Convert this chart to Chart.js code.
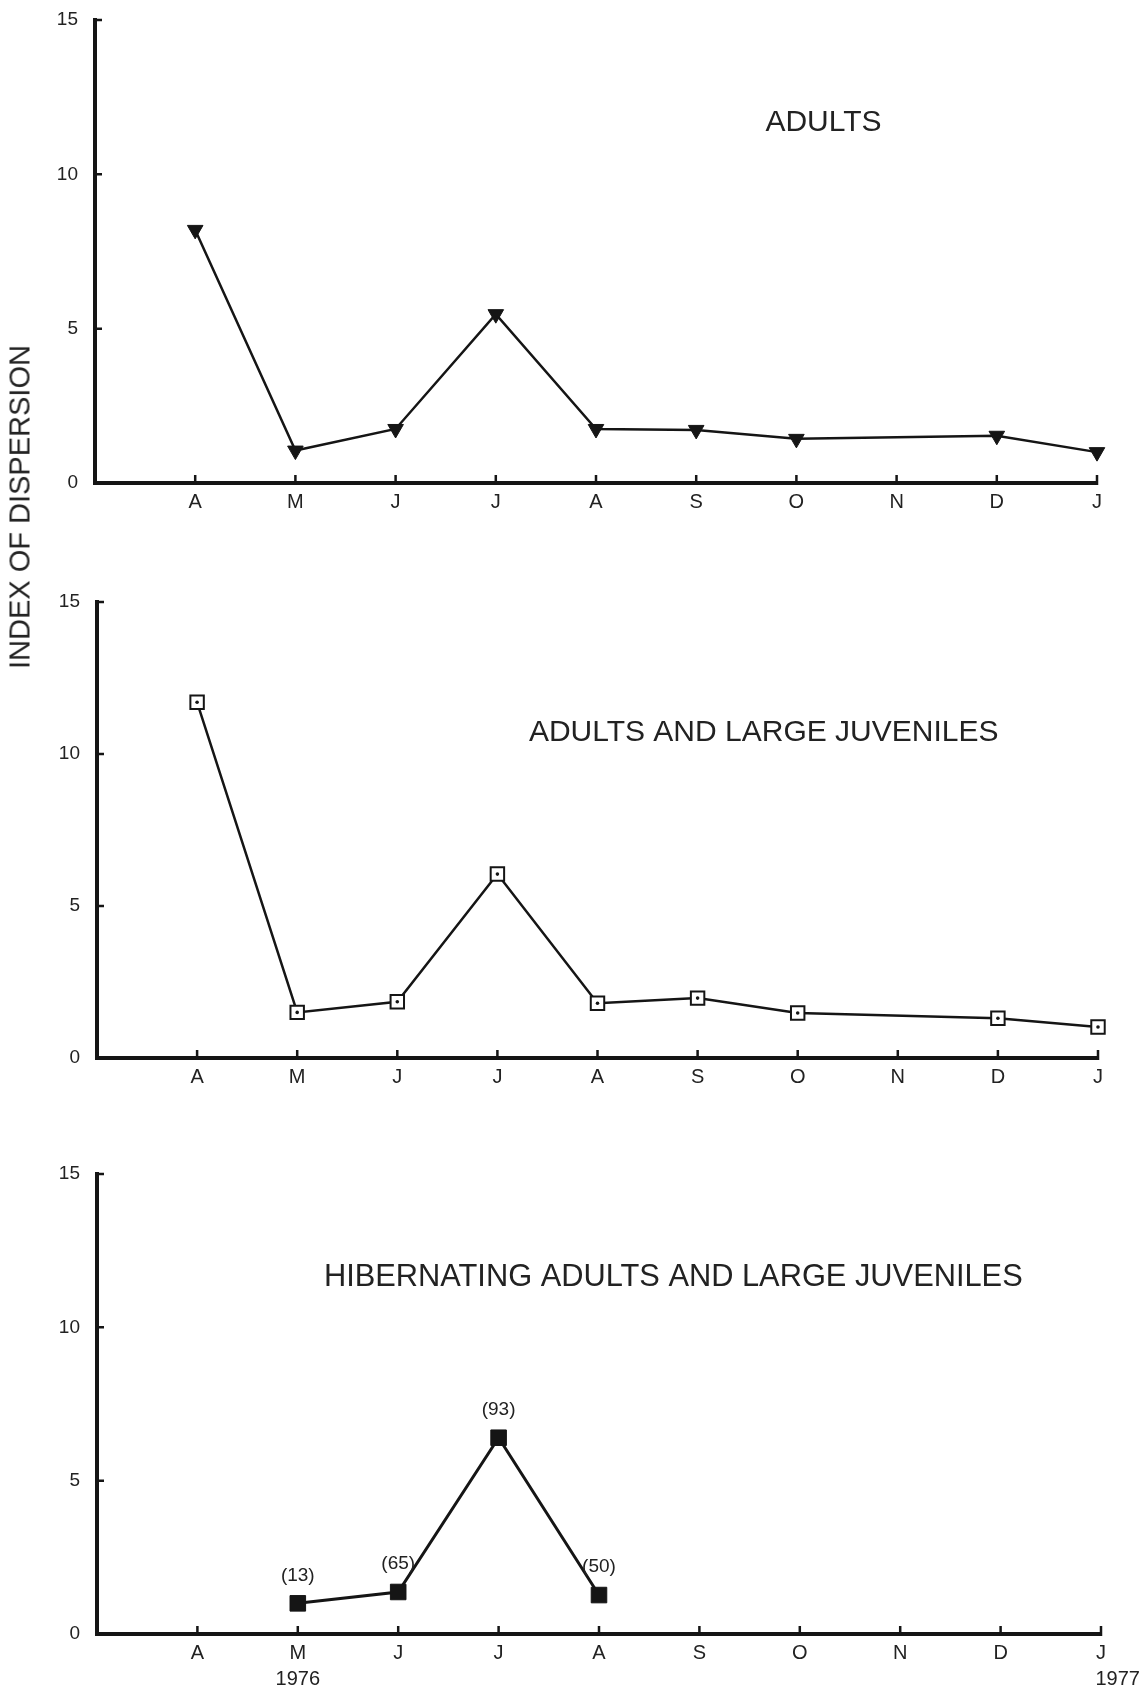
<!DOCTYPE html>
<html>
<head>
<meta charset="utf-8">
<script src="https://cdn.jsdelivr.net/npm/chart.js@4.4.0/dist/chart.umd.min.js"></script>
<style>
    html, body { margin: 0; padding: 0; background: #fff; }
    #page { position: relative; width: 1146px; height: 1692px; overflow: hidden; font-family: "Liberation Sans", Arial, sans-serif; }
    canvas { position: absolute; left: 0; }
    #ylabel {
        position: absolute; left: 20px; top: 507px;
        transform: translate(-50%, -50%) rotate(-90deg);
        font-size: 29px; color: #222; white-space: nowrap;
    }
</style>
</head>
<body>
<div id="page">
    <canvas id="c1" width="1146" height="550" style="top:-10px"></canvas>
    <canvas id="c2" width="1146" height="550" style="top:560px"></canvas>
    <canvas id="c3" width="1146" height="572" style="top:1120px"></canvas>
    <div id="ylabel">INDEX OF DISPERSION</div>
</div>
<script>
// Data (index of dispersion per month, null = no sample)
const MONTHS = ['A', 'M', 'J', 'J', 'A', 'S', 'O', 'N', 'D', 'J'];
const Y_TICKS = [0, 5, 10, 15];
const ADULTS = [8.2, 1.05, 1.75, 5.47, 1.75, 1.72, 1.43, null, 1.53, 1.0];
const ADULTS_LARGE_JUV = [11.7, 1.5, 1.85, 6.05, 1.8, 1.97, 1.48, null, 1.31, 1.02];
const HIBERNATING = [null, 1.0, 1.37, 6.4, 1.27, null, null, null, null, null];
const HIBERNATING_N = ['', '(13)', '(65)', '(93)', '(50)', '', '', '', '', ''];
const YEAR_START = '1976';
const YEAR_END = '1977';

const INK = '#151515';
Chart.defaults.font.family = '"Liberation Sans", Arial, sans-serif';
Chart.defaults.color = '#222';

// month i -> x = i + 1 (x = 0 is the y axis)
function toPoints(values) {
    const pts = [];
    values.forEach((v, i) => {
        if (v !== null) pts.push({ x: i + 1, y: v });
    });
    return pts;
}

// small ticks drawn inside the axes, plus the panel title
const panelDecor = {
    id: 'panelDecor',
    afterDraw(chart, args, opts) {
        const { ctx, chartArea: a, scales: { x, y } } = chart;
        ctx.save();
        ctx.strokeStyle = INK;
        ctx.lineWidth = 2.5;
        ctx.beginPath();
        for (let i = 1; i <= MONTHS.length; i++) {
            const px = x.getPixelForValue(i);
            ctx.moveTo(px, a.bottom + 2);
            ctx.lineTo(px, a.bottom - 8);
        }
        Y_TICKS.slice(1).forEach(t => {
            const py = y.getPixelForValue(t);
            ctx.moveTo(a.left - 1, py);
            ctx.lineTo(a.left + 7, py);
        });
        ctx.stroke();

        if (opts.text) {
            ctx.fillStyle = '#222';
            ctx.font = (opts.size || 30) + 'px "Liberation Sans", Arial, sans-serif';
            ctx.textAlign = 'center';
            ctx.textBaseline = 'middle';
            ctx.fillText(opts.text, x.getPixelForValue(opts.x), y.getPixelForValue(opts.y));
        }
        ctx.restore();
    }
};

// sample sizes written above the points
const countLabels = {
    id: 'countLabels',
    afterDatasetsDraw(chart, args, opts) {
        if (!opts.labels) return;
        const { ctx } = chart;
        const meta = chart.getDatasetMeta(0);
        const shown = opts.labels.filter((l, i) => HIBERNATING[i] !== null);
        ctx.save();
        ctx.fillStyle = '#222';
        ctx.font = '19px "Liberation Sans", Arial, sans-serif';
        ctx.textAlign = 'center';
        ctx.textBaseline = 'middle';
        meta.data.forEach((pt, i) => {
            if (shown[i]) ctx.fillText(shown[i], pt.x, pt.y - 28);
        });
        ctx.restore();
    }
};

function makePanel(id, p) {
    const canvas = document.getElementById(id);
    return new Chart(canvas.getContext('2d'), {
        type: 'line',
        data: { datasets: p.datasets },
        options: {
            responsive: false,
            animation: false,
            layout: { padding: { left: 0, right: canvas.width - p.right, top: p.top, bottom: 0 } },
            scales: {
                x: {
                    type: 'linear',
                    min: 0,
                    max: MONTHS.length,
                    afterFit: s => { s.height = canvas.height - p.bottom; },
                    grid: { display: false, drawTicks: false },
                    border: { color: INK, width: 4 },
                    ticks: {
                        stepSize: 1,
                        autoSkip: false,
                        maxRotation: 0,
                        padding: 6,
                        color: '#222',
                        font: { size: 20, lineHeight: 1.3 },
                        callback: v => (p.tickLabel ? p.tickLabel(v) : (MONTHS[v - 1] || ''))
                    }
                },
                y: {
                    min: 0,
                    max: 15,
                    afterFit: s => { s.width = p.left; },
                    grid: { display: false, drawTicks: false },
                    border: { color: INK, width: 4 },
                    ticks: { stepSize: 5, padding: 17, color: '#222', font: { size: 19 } }
                }
            },
            plugins: {
                legend: { display: false },
                tooltip: { enabled: false },
                panelDecor: p.title,
                countLabels: { labels: p.counts || null }
            }
        },
        plugins: [panelDecor, countLabels]
    });
}

// Panel 1: adults
makePanel('c1', {
    left: 95, right: 1097, top: 30, bottom: 493,
    title: { text: 'ADULTS', x: 7.27, y: 11.66 },
    datasets: [{
        data: toPoints(ADULTS),
        borderColor: INK,
        borderWidth: 2.5,
        pointStyle: 'triangle',
        rotation: 180,
        pointRadius: 9,
        pointBackgroundColor: INK,
        pointBorderColor: INK,
        pointBorderWidth: 1,
        clip: false
    }]
});

// Panel 2: adults and large juveniles
makePanel('c2', {
    left: 97, right: 1098, top: 42, bottom: 498,
    title: { text: 'ADULTS AND LARGE JUVENILES', x: 6.66, y: 10.69 },
    datasets: [{
        data: toPoints(ADULTS_LARGE_JUV),
        showLine: false,
        pointStyle: 'circle',
        pointRadius: 1.8,
        pointBackgroundColor: INK,
        pointBorderWidth: 0,
        order: -1,
        clip: false
    }, {
        data: toPoints(ADULTS_LARGE_JUV),
        borderColor: INK,
        borderWidth: 2.5,
        pointStyle: 'rect',
        pointRadius: 9.5,
        pointBackgroundColor: '#fff',
        pointBorderColor: INK,
        pointBorderWidth: 2,
        clip: false
    }]
});

// Panel 3: hibernating adults and large juveniles
makePanel('c3', {
    left: 97, right: 1101, top: 54, bottom: 514,
    title: { text: 'HIBERNATING ADULTS AND LARGE JUVENILES', x: 5.74, y: 11.64, size: 30.8 },
    counts: HIBERNATING_N,
    tickLabel: v => {
        if (v === 2) return [MONTHS[1], YEAR_START];
        if (v === MONTHS.length) return [MONTHS[v - 1], '      ' + YEAR_END];
        return MONTHS[v - 1] || '';
    },
    datasets: [{
        data: toPoints(HIBERNATING),
        borderColor: INK,
        borderWidth: 3,
        pointStyle: 'rect',
        pointRadius: 11,
        pointBackgroundColor: INK,
        pointBorderColor: INK,
        pointBorderWidth: 1,
        clip: false
    }]
});
</script>
</body>
</html>
